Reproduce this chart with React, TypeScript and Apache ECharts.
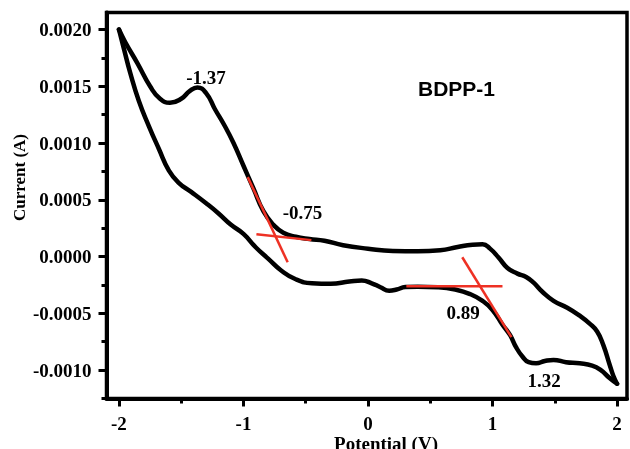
import React, { useEffect, useRef } from "react";
import * as echarts from "echarts";

// Forward (upper) branch: potential (V), current (A)
const upperBranch: [number, number][] = [
  [-2.0, 0.002], [-1.95, 0.00189], [-1.85, 0.0017], [-1.75, 0.0015], [-1.67, 0.00139],
  [-1.59, 0.001355], [-1.5, 0.00139], [-1.43, 0.00146], [-1.37, 0.00149], [-1.3, 0.00144],
  [-1.23, 0.0013], [-1.15, 0.00115], [-1.08, 0.001], [-1.0, 0.0008], [-0.92, 0.0006],
  [-0.84, 0.0004], [-0.76, 0.00028], [-0.68, 0.00021], [-0.58, 0.000175], [-0.47, 0.000155],
  [-0.35, 0.00014], [-0.2, 0.0001], [0.0, 0.00007], [0.2, 0.00005], [0.4, 0.000047],
  [0.58, 0.000055], [0.72, 0.000085], [0.84, 0.000105], [0.92, 0.000108], [0.98, 0.00007],
  [1.05, -0.00001], [1.12, -0.0001], [1.2, -0.00015], [1.27, -0.00018], [1.33, -0.00023],
  [1.4, -0.00031], [1.49, -0.00039], [1.6, -0.00045], [1.7, -0.00052], [1.78, -0.00059],
  [1.84, -0.00066], [1.89, -0.00078], [1.94, -0.00095], [1.97, -0.00105], [2.0, -0.00112],
];

// Reverse (lower) branch
const lowerBranch: [number, number][] = [
  [2.0, -0.00112], [1.94, -0.00107], [1.87, -0.001], [1.8, -0.00096], [1.7, -0.00094],
  [1.59, -0.00093], [1.49, -0.00091], [1.42, -0.00092], [1.35, -0.00094], [1.29, -0.00093],
  [1.24, -0.00088], [1.19, -0.0008], [1.14, -0.00069], [1.08, -0.0006], [1.0, -0.00047],
  [0.92, -0.00039], [0.82, -0.00033], [0.7, -0.00029], [0.56, -0.00027], [0.4, -0.000265],
  [0.3, -0.000268], [0.23, -0.00029], [0.17, -0.0003], [0.1, -0.00027], [0.03, -0.000235],
  [-0.05, -0.00021], [-0.15, -0.00022], [-0.3, -0.00024], [-0.45, -0.000235], [-0.58, -0.0002],
  [-0.7, -0.00012], [-0.8, -0.00002], [-0.9, 0.00008], [-1.0, 0.0002], [-1.1, 0.00028],
  [-1.2, 0.00038], [-1.3, 0.00047], [-1.42, 0.00057], [-1.52, 0.00065], [-1.6, 0.00076],
  [-1.68, 0.00095], [-1.76, 0.00115], [-1.84, 0.00137], [-1.91, 0.00162], [-1.96, 0.00183],
  [-2.0, 0.002],
];

// Red tangent lines
const tangentA1: [number, number][] = [[-0.966, 0.0007], [-0.645, -0.00005]];
const tangentA2: [number, number][] = [[-0.896, 0.000196], [-0.455, 0.000145]];
const tangentB1: [number, number][] = [[0.308, -0.000262], [1.08, -0.000262]];
const tangentB2: [number, number][] = [[0.757, -0.000006], [1.152, -0.00071]];

const xMajorTicks = [-2, -1, 0, 1, 2];
const xMinorTicks = [-1.5, -0.5, 0.5, 1.5];
const yMajorTicks = [-0.001, -0.0005, 0, 0.0005, 0.001, 0.0015, 0.002];
const yMinorTicks = [-0.00125, -0.00075, -0.00025, 0.00025, 0.00075, 0.00125, 0.00175];

const peakLabels = ["-1.37", "-0.75", "0.89", "1.32"];
const sampleName = "BDPP-1";
const xTitle = "Potential (V)";
const yTitle = "Current (A)";

const SERIF = "'Liberation Serif', 'Times New Roman', serif";
const SANS = "'Liberation Sans', Arial, sans-serif";

export default function App() {
  const ref = useRef<HTMLDivElement>(null);
  useEffect(() => {
    if (!ref.current) return;
    const chart = echarts.init(ref.current, null, { renderer: "svg" });
    const labelStyle = { color: "#000", fontFamily: SERIF, fontWeight: "bold", fontSize: 19 };
    const xmin = -2.1, xmax = 2.08, ymin = -0.00125, ymax = 0.00215;
    const redLine = (d: [number, number][]) => ({
      type: "line", data: d, showSymbol: false, symbol: "none", silent: true,
      lineStyle: { color: "#ee3124", width: 2.5 }, z: 3,
    });
    const blackLine = (d: [number, number][]) => ({
      type: "line", data: d, smooth: 0.5, showSymbol: false, symbol: "none",
      lineStyle: { color: "#000", width: 4.5, cap: "round", join: "round" }, z: 2,
    });
    const txt = (x: number, y: number, text: string, font: string, extra: any = {}) => ({
      type: "text", x, y, ...extra,
      style: { text, font, fill: "#000", textAlign: "center", textVerticalAlign: extra.va || "middle" },
    });
    chart.setOption({
      animation: false,
      grid: {
        left: 106.5, top: 12.5, width: 520.5, height: 386,
        show: true, borderColor: "#000", borderWidth: 3.5, containLabel: false,
      },
      xAxis: [
        {
          type: "value", min: xmin, max: xmax, position: "bottom",
          axisLine: { show: true, onZero: false, lineStyle: { color: "#000", width: 4 } },
          axisTick: { show: true, customValues: xMajorTicks, length: 8, lineStyle: { color: "#000", width: 3 } },
          axisLabel: { customValues: xMajorTicks, margin: 15, ...labelStyle, formatter: (v: number) => String(Math.round(v)) },
          splitLine: { show: false },
        },
        {
          type: "value", min: xmin, max: xmax, position: "bottom",
          axisLine: { show: false, onZero: false },
          axisTick: { show: true, customValues: xMinorTicks, length: 5, lineStyle: { color: "#000", width: 3 } },
          axisLabel: { show: false },
          splitLine: { show: false },
        },
      ],
      yAxis: [
        {
          type: "value", min: ymin, max: ymax, position: "left",
          axisLine: { show: true, onZero: false, lineStyle: { color: "#000", width: 4 } },
          axisTick: { show: true, customValues: yMajorTicks, length: 8, lineStyle: { color: "#000", width: 3 } },
          axisLabel: { customValues: yMajorTicks, margin: 15, ...labelStyle, formatter: (v: number) => v.toFixed(4) },
          splitLine: { show: false },
        },
        {
          type: "value", min: ymin, max: ymax, position: "left",
          axisLine: { show: false, onZero: false },
          axisTick: { show: true, customValues: yMinorTicks, length: 5, lineStyle: { color: "#000", width: 3 } },
          axisLabel: { show: false },
          splitLine: { show: false },
        },
      ],
      series: [
        blackLine(upperBranch),
        blackLine(lowerBranch),
        redLine(tangentA1),
        redLine(tangentA2),
        redLine(tangentB1),
        redLine(tangentB2),
      ],
      graphic: [
        txt(206, 77, peakLabels[0], `bold 19px ${SERIF}`),
        txt(302.5, 212.5, peakLabels[1], `bold 19px ${SERIF}`),
        txt(463, 312.5, peakLabels[2], `bold 19px ${SERIF}`),
        txt(544, 380.5, peakLabels[3], `bold 19px ${SERIF}`),
        txt(456.5, 88.5, sampleName, `bold 21px ${SANS}`),
        txt(19, 177.5, yTitle, `bold 17px ${SERIF}`, { rotation: Math.PI / 2 }),
        txt(386, 434, xTitle, `bold 19px ${SERIF}`, { va: "top" }),
      ],
    });
    return () => chart.dispose();
  }, []);
  return <div ref={ref} style={{ position: "fixed", left: 0, top: 0, width: 630, height: 449 }} />;
}
